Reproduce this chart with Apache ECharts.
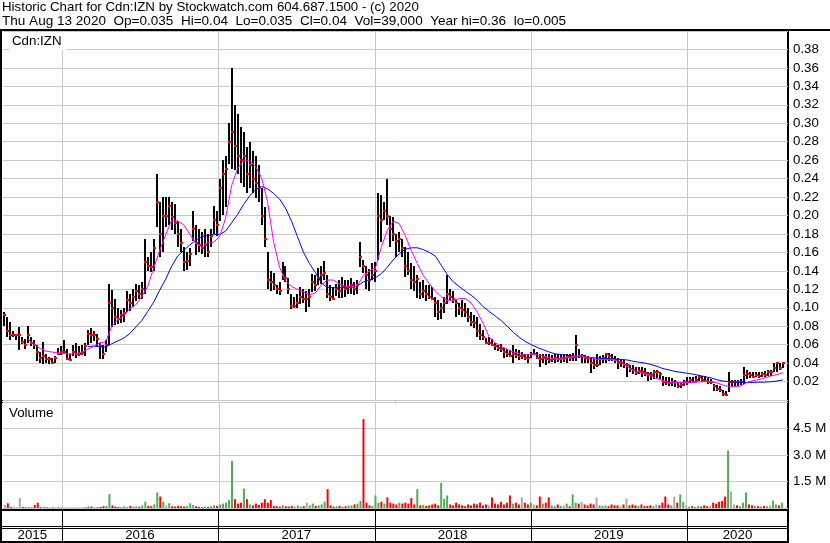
<!DOCTYPE html>
<html><head><meta charset="utf-8">
<script src="https://cdn.jsdelivr.net/npm/echarts@6/dist/echarts.min.js"></script>
<style>html,body{margin:0;padding:0;background:#fff}#c{width:830px;height:543px}</style>
</head><body><div id="c"></div>
<script>
// ---------- texts ----------
const titleLine1 = 'Historic Chart for Cdn:IZN by Stockwatch.com 604.687.1500 - (c) 2020';
const titleLine2 = 'Thu Aug 13 2020  Op=0.035  Hi=0.04  Lo=0.035  Cl=0.04  Vol=39,000  Year hi=0.36  lo=0.005';
const symbolLabel = 'Cdn:IZN';
const volumeLabel = 'Volume';
const yearLabels = ['2015', '2016', '2017', '2018', '2019', '2020'];

// ---------- axis ranges ----------
const axisStart = Date.UTC(2015, 7, 17);
const axisEnd = Date.UTC(2020, 7, 24);
const priceMax = 0.4, priceStep = 0.02;
const volumeMax = 6, volumeStep = 1.5; // millions

// ---------- weekly price bars (one per week, first week of 2015-08-19) ----------
const firstWeek = Date.UTC(2015, 7, 19);
const weekHigh = [
.095,.090,.085,.075,.072,.079,.068,.066,.080,.068,
.065,.060,.052,.063,.050,.047,.046,.048,.056,.058,
.065,.055,.050,.060,.062,.058,.060,.062,.076,.078,
.075,.072,.062,.060,.065,.126,.119,.110,.100,.098,
.100,.118,.115,.120,.126,.125,.128,.175,.155,.160,
.175,.245,.215,.220,.220,.220,.215,.212,.194,.185,
.166,.160,.165,.205,.190,.185,.182,.185,.180,.185,
.210,.205,.240,.260,.265,.300,.360,.320,.310,.296,
.290,.274,.280,.270,.265,.255,.230,.209,.160,.140,
.138,.125,.128,.150,.145,.132,.115,.112,.115,.122,
.120,.118,.120,.137,.135,.143,.145,.151,.135,.125,
.122,.126,.130,.133,.130,.130,.132,.128,.130,.171,
.152,.145,.142,.148,.150,.224,.222,.215,.240,.200,
.198,.180,.182,.175,.166,.160,.148,.145,.135,.128,
.130,.125,.125,.122,.112,.108,.105,.112,.135,.120,
.118,.108,.105,.108,.105,.100,.095,.092,.090,.082,
.076,.067,.068,.066,.062,.060,.061,.056,.055,.054,
.060,.055,.054,.052,.050,.050,.052,.055,.052,.050,
.050,.050,.050,.049,.050,.050,.049,.050,.050,.050,
.051,.070,.055,.050,.049,.048,.045,.044,.050,.048,
.049,.051,.051,.050,.048,.045,.044,.043,.040,.038,
.038,.036,.036,.036,.035,.030,.030,.032,.032,.030,
.026,.025,.025,.024,.022,.020,.020,.022,.025,.025,
.025,.026,.027,.026,.026,.024,.023,.017,.016,.015,
.011,.010,.030,.022,.022,.022,.023,.036,.032,.030,
.030,.030,.030,.030,.031,.032,.032,.040,.040,.040,.040];
const weekLow = [
.080,.068,.065,.068,.066,.054,.060,.055,.062,.058,
.055,.043,.040,.039,.040,.039,.039,.040,.048,.048,
.050,.043,.042,.048,.046,.047,.049,.048,.060,.062,
.064,.058,.045,.045,.052,.060,.079,.082,.083,.084,
.085,.095,.097,.100,.108,.110,.110,.115,.140,.138,
.140,.188,.155,.160,.188,.190,.185,.180,.166,.160,
.140,.140,.145,.173,.158,.160,.158,.155,.155,.165,
.180,.178,.195,.200,.210,.256,.250,.250,.245,.235,
.230,.224,.230,.225,.220,.215,.190,.166,.120,.118,
.120,.115,.114,.130,.128,.115,.099,.100,.100,.104,
.105,.095,.100,.118,.118,.125,.125,.130,.110,.108,
.108,.113,.110,.110,.112,.115,.115,.114,.115,.144,
.138,.120,.118,.130,.128,.151,.171,.195,.190,.166,
.172,.155,.160,.155,.133,.135,.120,.118,.110,.110,
.110,.108,.110,.108,.090,.086,.088,.095,.104,.108,
.105,.090,.092,.090,.090,.085,.080,.078,.068,.065,
.065,.060,.059,.058,.054,.054,.052,.045,.046,.046,
.040,.045,.043,.044,.043,.040,.045,.048,.044,.036,
.040,.038,.040,.041,.040,.041,.040,.041,.040,.042,
.042,.042,.045,.040,.040,.040,.029,.033,.036,.038,
.040,.040,.042,.042,.040,.033,.035,.034,.025,.030,
.028,.027,.028,.025,.026,.020,.021,.022,.023,.022,
.015,.016,.015,.015,.014,.014,.014,.015,.016,.018,
.018,.019,.020,.019,.020,.018,.018,.009,.010,.009,
.005,.005,.008,.015,.016,.016,.017,.018,.022,.024,
.023,.025,.024,.025,.025,.026,.026,.030,.030,.032,.035];
const weekClose = [
.092,.075,.070,.070,.070,.070,.063,.060,.070,.062,
.060,.052,.045,.048,.044,.044,.040,.045,.050,.052,
.052,.044,.043,.052,.050,.050,.051,.058,.072,.070,
.070,.066,.058,.050,.060,.105,.100,.090,.088,.092,
.094,.108,.105,.112,.118,.115,.120,.150,.145,.144,
.165,.215,.180,.200,.200,.210,.198,.192,.180,.170,
.150,.151,.158,.185,.170,.168,.165,.168,.160,.178,
.195,.190,.230,.245,.250,.280,.290,.275,.265,.260,
.265,.245,.255,.240,.235,.230,.200,.175,.130,.128,
.125,.120,.118,.135,.132,.120,.102,.102,.105,.112,
.110,.110,.112,.128,.125,.132,.135,.138,.115,.112,
.110,.120,.118,.122,.120,.122,.125,.120,.125,.155,
.145,.135,.130,.135,.140,.200,.195,.205,.200,.185,
.180,.172,.175,.165,.145,.140,.130,.128,.131,.115,
.118,.115,.112,.110,.105,.095,.100,.105,.115,.112,
.110,.105,.100,.098,.095,.090,.085,.083,.075,.070,
.068,.062,.062,.060,.058,.056,.055,.052,.050,.048,
.050,.049,.048,.048,.046,.045,.050,.050,.046,.044,
.045,.044,.043,.044,.046,.044,.045,.045,.047,.046,
.047,.060,.048,.048,.046,.045,.040,.038,.038,.044,
.045,.050,.048,.044,.043,.040,.040,.038,.038,.034,
.033,.029,.031,.030,.029,.028,.027,.030,.030,.028,
.020,.019,.018,.020,.020,.015,.016,.020,.020,.022,
.020,.022,.025,.022,.021,.020,.020,.015,.012,.011,
.006,.005,.020,.020,.020,.019,.020,.027,.028,.027,
.025,.027,.026,.028,.027,.030,.030,.035,.040,.035,.040];
// volume shown for each week, in millions of shares
const weekVolume = [
.17,.27,.05,.08,.04,.56,.06,.04,.06,.03,
.17,.30,.05,.07,.04,.03,.04,.03,.05,.03,
.03,.02,.02,.03,.02,.04,.03,.06,.10,.08,
.05,.04,.06,.10,.12,.79,.15,.08,.05,.06,
.10,.06,.12,.08,.10,.07,.15,.36,.12,.10,
.20,.88,.65,.36,.15,.27,.10,.08,.12,.10,
.08,.12,.27,.17,.10,.06,.05,.08,.06,.10,
.15,.12,.20,.25,.30,.45,2.67,.50,.25,.30,
1.10,.50,.20,.15,.25,.18,.30,.50,.30,.45,
.12,.10,.08,.15,.10,.08,.12,.10,.15,.08,
.10,.30,.15,.25,.12,.15,.20,.36,1.07,.15,
.08,.10,.12,.08,.10,.15,.15,.20,.25,.40,
5.03,.30,.15,.12,.71,.30,.35,.25,.60,.30,
.25,.20,.30,.25,.30,.25,.56,.20,1.07,.15,
.18,.12,.15,.20,.25,.15,1.42,.52,.71,.20,
.15,.30,.20,.15,.10,.20,.15,.25,.20,.30,
.15,.20,.15,.60,.25,.20,.35,.20,.30,.71,
.25,.30,.20,.60,.30,.20,.30,.20,.15,.65,
.25,.30,.60,.15,.10,.20,.12,.15,.25,.10,
.77,.30,.25,.35,.20,.15,.25,.20,.60,.15,
.12,.15,.10,.20,.15,.15,.10,.20,.54,.15,
.20,.15,.12,.20,.10,.12,.15,.10,.20,.15,
.30,.65,.20,.15,.65,.30,.77,.35,.15,.08,
.10,.06,.12,.08,.15,.10,.12,.30,.25,.35,
.40,.65,3.25,.94,.20,.15,.10,.30,.88,.20,
.15,.12,.10,.08,.12,.10,.15,.42,.20,.15,.30];

// ---------- moving averages, one value every 2 weeks ----------
const maFast = [
null,null,null,null,.066,.061,.056,.053,.052,.051,
.0505,.050,.050,.052,.055,.058,.062,.063,.080,.087,
.091,.099,.103,.112,.123,.143,.162,.179,.195,.194,
.190,.180,.170,.166,.171,.171,.177,.197,.232,.251,
.260,.260,.253,.241,.215,.172,.144,.129,.123,.120,
.117,.114,.116,.125,.130,.130,.126,.123,.1225,.124,
.135,.140,.143,.166,.184,.194,.191,.178,.162,.148,
.135,.126,.118,.112,.108,.108,.110,.110,.105,.095,
.083,.068,.062,.058,.055,.052,.0506,.049,.050,.049,
.0475,.046,.0447,.044,.046,.047,.0477,.047,.0455,.044,
.044,.044,.0435,.041,.036,.0325,.030,.028,.026,.023,
.021,.019,.019,.019,.019,.019,.0195,.020,.020,.0185,
.0162,.0146,.0146,.0152,.019,.021,.022,.024,.026,.0275,.0295];
const maSlow = [
null,null,null,null,null,null,null,null,null,null,
null,null,null,null,.058,.0584,.0577,.0575,.061,.064,
.067,.072,.079,.086,.096,.106,.119,.131,.145,.156,
.162,.168,.173,.177,.178,.1795,.1795,.183,.192,.201,
.212,.221,.228,.2315,.229,.224,.218,.208,.194,.177,
.160,.148,.138,.127,.122,.1217,.1217,.1217,.122,.1235,
.128,.1305,.1325,.137,.144,.152,.1586,.1635,.165,.165,
.163,.160,.156,.146,.136,.128,.123,.118,.1135,.108,
.101,.096,.091,.086,.080,.0735,.068,.0635,.060,.057,
.0545,.052,.050,.0493,.0485,.0477,.047,.0463,.046,.0455,
.0452,.0448,.0444,.044,.0434,.042,.041,.040,.0385,.0365,
.034,.0326,.031,.030,.029,.028,.0267,.0253,.024,.022,
.0205,.020,.0193,.019,.0189,.019,.0193,.0194,.0198,.0205,.0218];

// ---------- build series data ----------
const DAY = 86400000;
const weekDate = i => firstWeek + i * 7 * DAY;
const barData = weekHigh.map((h, i) => [weekDate(i), h, weekLow[i], weekClose[i]]);
const volColor = i => (i === 0 || weekClose[i] === weekClose[i - 1]) ? '#a9a9a9' : (weekClose[i] > weekClose[i - 1] ? '#4caf50' : '#ff0000');
const volData = weekVolume.map((v, i) => ({ value: [weekDate(i), v], itemStyle: { color: volColor(i) } }));
const fastData = maFast.map((v, k) => [weekDate(2 * k), v]);
const slowData = maSlow.map((v, k) => [weekDate(2 * k), v]);
const yearStarts = yearLabels.slice(1).map(y => Date.UTC(+y, 0, 1));
const yearCenters = yearLabels.map(y => {
  const a = Math.max(Date.UTC(+y, 0, 1), axisStart), b = Math.min(Date.UTC(+y + 1, 0, 1), axisEnd);
  return [(a + b) / 2, y];
});

const FONT = '"Liberation Sans", Arial, sans-serif';
const GRID_C = '#c8c8c8';

function renderBar(params, api) {
  const t = api.value(0);
  const hi = api.coord([t, api.value(1)]);
  const lo = api.coord([t, api.value(2)]);
  const cl = api.coord([t, api.value(3)]);
  const x = Math.round(hi[0]);
  return { type: 'group', children: [
    { type: 'rect', shape: { x: x - 1, y: Math.round(hi[1]), width: 2, height: Math.max(1, Math.round(lo[1] - hi[1])) }, style: { fill: '#000' } },
    { type: 'rect', shape: { x: x - 1, y: Math.round(cl[1]) - 1, width: 3, height: 2 }, style: { fill: '#ff0000' } }
  ] };
}
function yearLineRenderer(color) {
  return function (params, api) {
    const cs = params.coordSys;
    const x = Math.round(api.coord([api.value(0), 0])[0]) + 0.5;
    return { type: 'line', shape: { x1: x, y1: cs.y, x2: x, y2: cs.y + cs.height }, style: { stroke: color, lineWidth: 1 } };
  };
}
function yearTextRenderer(params, api) {
  const cs = params.coordSys;
  const x = api.coord([api.value(0), 0])[0];
  return { type: 'text', x: x, y: cs.y + 24, style: { text: yearCenters[params.dataIndex][1], fill: '#000', font: '13.3px ' + FONT, textAlign: 'center', textVerticalAlign: 'middle' } };
}

const xAxisBase = { type: 'time', min: axisStart, max: axisEnd, axisLine: { show: false }, axisTick: { show: false }, axisLabel: { show: false }, splitLine: { show: false } };

const option = {
  useUTC: true,
  animation: false,
  backgroundColor: '#fff',
  grid: [
    { left: 3, top: 31, width: 785, height: 369 },
    { left: 3, top: 402, width: 785, height: 106 },
    { left: 3, top: 511, width: 785, height: 31 }
  ],
  xAxis: [
    Object.assign({ gridIndex: 0 }, xAxisBase),
    Object.assign({ gridIndex: 1 }, xAxisBase),
    Object.assign({ gridIndex: 2 }, xAxisBase)
  ],
  yAxis: [
    { gridIndex: 0, type: 'value', position: 'right', min: 0, max: priceMax, interval: priceStep,
      axisLine: { show: false }, axisTick: { show: false },
      axisLabel: { margin: 5, color: '#000', fontSize: 13.3, fontFamily: FONT,
        formatter: v => (v > 0.001 && v < priceMax - 0.001) ? v.toFixed(2) : '' },
      splitLine: { lineStyle: { color: GRID_C, width: 1 } } },
    { gridIndex: 1, type: 'value', position: 'right', min: 0, max: volumeMax, interval: volumeStep,
      axisLine: { show: false }, axisTick: { show: false },
      axisLabel: { margin: 5, color: '#000', fontSize: 13.3, fontFamily: FONT,
        formatter: v => (v > 0.01 && v < volumeMax - 0.01) ? v.toFixed(1) + ' M' : '' },
      splitLine: { lineStyle: { color: GRID_C, width: 1 } } },
    { gridIndex: 2, type: 'value', min: 0, max: 1, show: false }
  ],
  series: [
    { type: 'custom', xAxisIndex: 0, yAxisIndex: 0, data: yearStarts.map(t => [t]), renderItem: yearLineRenderer(GRID_C), silent: true, z: 1 },
    { type: 'custom', xAxisIndex: 1, yAxisIndex: 1, data: yearStarts.map(t => [t]), renderItem: yearLineRenderer(GRID_C), silent: true, z: 1 },
    { type: 'custom', xAxisIndex: 2, yAxisIndex: 2, data: yearStarts.map(t => [t]), renderItem: yearLineRenderer('#000'), silent: true, z: 1 },
    { type: 'custom', xAxisIndex: 2, yAxisIndex: 2, data: yearCenters.map(c => [c[0]]), renderItem: yearTextRenderer, silent: true, z: 2 },
    { type: 'custom', name: 'price', xAxisIndex: 0, yAxisIndex: 0, data: barData, renderItem: renderBar, clip: true, silent: true, z: 3 },
    { type: 'line', name: 'maSlow', xAxisIndex: 0, yAxisIndex: 0, data: slowData, showSymbol: false, connectNulls: false,
      lineStyle: { color: '#0000ff', width: 1 }, silent: true, z: 4 },
    { type: 'line', name: 'maFast', xAxisIndex: 0, yAxisIndex: 0, data: fastData, showSymbol: false, connectNulls: false,
      lineStyle: { color: '#ff00ff', width: 1 }, silent: true, z: 5 },
    { type: 'bar', name: 'volume', xAxisIndex: 1, yAxisIndex: 1, data: volData, barWidth: 2, silent: true, z: 3 }
  ],
  graphic: [
    { type: 'text', left: 2, top: 1, style: { text: titleLine1, font: '13.3px ' + FONT, fill: '#000' } },
    { type: 'text', left: 2, top: 14, style: { text: titleLine2, font: '13.55px ' + FONT, fill: '#000' } },
    { type: 'rect', shape: { x: 0, y: 29, width: 830, height: 2 }, style: { fill: '#000' } },
    { type: 'text', x: 9, y: 41, style: { text: symbolLabel, font: '13.3px ' + FONT, fill: '#000', textVerticalAlign: 'middle', backgroundColor: '#fff', padding: [3, 5, 2, 3] }, z: 50 },
    { type: 'text', x: 9, y: 413, style: { text: volumeLabel, font: '13.3px ' + FONT, fill: '#000', textVerticalAlign: 'middle' }, z: 50 },
    { type: 'rect', shape: { x: 0, y: 400, width: 789, height: 1 }, style: { fill: '#000' } },
    { type: 'rect', shape: { x: 0, y: 402, width: 789, height: 1 }, style: { fill: '#000' } },
    { type: 'rect', shape: { x: 0, y: 509, width: 789, height: 2 }, style: { fill: '#000' } },
    { type: 'rect', shape: { x: 0, y: 526, width: 789, height: 1 }, style: { fill: '#000' } },
    { type: 'rect', shape: { x: 0, y: 528, width: 789, height: 1 }, style: { fill: '#000' } },
    { type: 'rect', shape: { x: 0, y: 541, width: 789, height: 2 }, style: { fill: '#000' } },
    { type: 'rect', shape: { x: 0, y: 29, width: 2, height: 514 }, style: { fill: '#000' } },
    { type: 'rect', shape: { x: 787, y: 29, width: 2, height: 514 }, style: { fill: '#000' } }
  ]
};

const chart = echarts.init(document.getElementById('c'), null, { renderer: 'canvas' });
chart.setOption(option);
</script>
</body></html>
